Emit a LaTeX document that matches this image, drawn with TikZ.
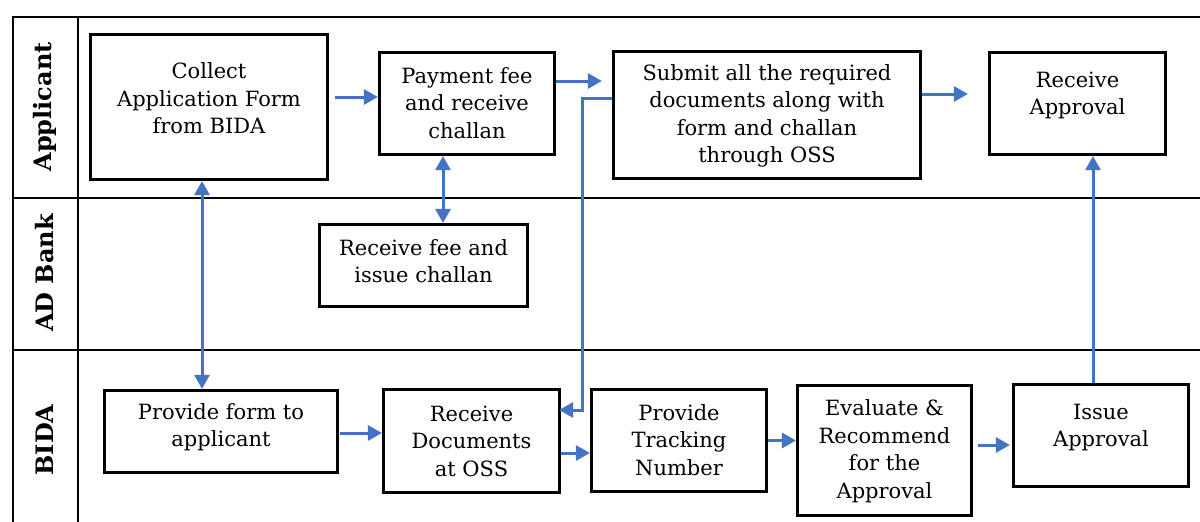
\documentclass[tikz,border=0pt]{standalone}
\usepackage{fontspec}
\setmainfont{DejaVu Serif}
\usetikzlibrary{arrows.meta}
\definecolor{arrblue}{HTML}{4472C4}
\begin{document}
\begin{tikzpicture}[x=1pt,y=-1pt,
 box/.style={draw, line width=3.2pt, rectangle, inner sep=0pt},
 txt/.style={align=center, font=\fontsize{21}{27.5}\selectfont, inner sep=0pt},
 lane/.style={font=\fontsize{24}{28}\selectfont\bfseries, rotate=90, inner sep=0pt},
 arr/.style={draw=arrblue, line width=3pt, -{Triangle[length=14pt,width=15pt]}},
 darr/.style={draw=arrblue, line width=3pt, {Triangle[length=14pt,width=15pt]}-{Triangle[length=14pt,width=15pt]}},
 gridline/.style={line width=2pt}]
\useasboundingbox (0,0) rectangle (1200,522);
% table
\draw[gridline] (13,522) -- (13,17) -- (1200,17);
\draw[gridline] (78,17) -- (78,522);
\draw[gridline] (13,198) -- (1200,198);
\draw[gridline] (13,350) -- (1200,350);
% lane labels
\node[lane] (lApp) at (45,107) {Applicant};
\node[lane] (lBank) at (45,273) {AD Bank};
\node[lane] (lBida) at (45,440) {BIDA};
% boxes
\node[box, minimum width=237pt, minimum height=145pt] (collect) at (209,107) {};
\node[txt] (collectT) at (209,98.5) {Collect\\Application Form\\from BIDA};
\node[box, minimum width=175pt, minimum height=102pt] (payment) at (467,103.5) {};
\node[txt] (paymentT) at (467,103) {Payment fee\\and receive\\challan};
\node[box, minimum width=307pt, minimum height=127pt] (submit) at (767,115) {};
\node[txt] (submitT) at (767,116) {Submit all the required\\documents along with\\form and challan\\through OSS};
\node[box, minimum width=176pt, minimum height=102pt] (recvappr) at (1077.5,103.5) {};
\node[txt] (recvapprT) at (1077.5,95.5) {Receive\\Approval};
\node[box, minimum width=208pt, minimum height=82pt] (recvfee) at (423.5,265.5) {};
\node[txt] (recvfeeT) at (423.5,261) {Receive fee and\\issue challan};
\node[box, minimum width=233pt, minimum height=82pt] (provform) at (221,431.5) {};
\node[txt] (provformT) at (221,427) {Provide form to\\applicant};
\node[box, minimum width=176pt, minimum height=103pt] (recvdocs) at (471.5,441) {};
\node[txt] (recvdocsT) at (471.5,441) {Receive\\Documents\\at OSS};
\node[box, minimum width=175pt, minimum height=102pt] (tracking) at (679,440.5) {};
\node[txt] (trackingT) at (679,440) {Provide\\Tracking\\Number};
\node[box, minimum width=174pt, minimum height=130pt] (evaluate) at (884.5,450.5) {};
\node[txt] (evaluateT) at (884.5,451) {Evaluate \&\\Recommend\\for the\\Approval};
\node[box, minimum width=175pt, minimum height=102pt] (issue) at (1101,435.5) {};
\node[txt] (issueT) at (1101,427.5) {Issue\\Approval};
% connectors
\draw[arr] ([xshift=6pt,yshift=10pt]collect.east) coordinate (c1) -- (c1 -| payment.west);
\draw[arr, shorten >=10pt] ([yshift=22.5pt]payment.east) coordinate (c2) -- (c2 -| submit.west);
\draw[arr] ([yshift=17pt]submit.west) -- ++(-29,0) |- ([xshift=-2pt,yshift=31pt]recvdocs.east);
\draw[arr, shorten >=20pt] ([yshift=21pt]submit.east) coordinate (c4) -- (c4 -| recvappr.west);
\draw[darr] ([xshift=-7pt]collect.south) coordinate (c5) -- (c5 |- provform.north);
\draw[darr] ([xshift=-24pt]payment.south) coordinate (c6) -- (c6 |- recvfee.north);
\draw[arr] ([xshift=1pt,yshift=-1.5pt]provform.east) coordinate (c7) -- (c7 -| recvdocs.west);
\draw[arr] ([yshift=-12pt]recvdocs.east) coordinate (c8) -- (c8 -| tracking.west);
\draw[arr] ([yshift=0pt]tracking.east) coordinate (c9) -- (c9 -| evaluate.west);
\draw[arr] ([xshift=5pt,yshift=5.5pt]evaluate.east) coordinate (c10) -- ([xshift=-2pt]c10 -| issue.west);
\draw[arr] ([xshift=-8pt]issue.north) coordinate (c11) -- (c11 |- recvappr.south);
\end{tikzpicture}
\end{document}
